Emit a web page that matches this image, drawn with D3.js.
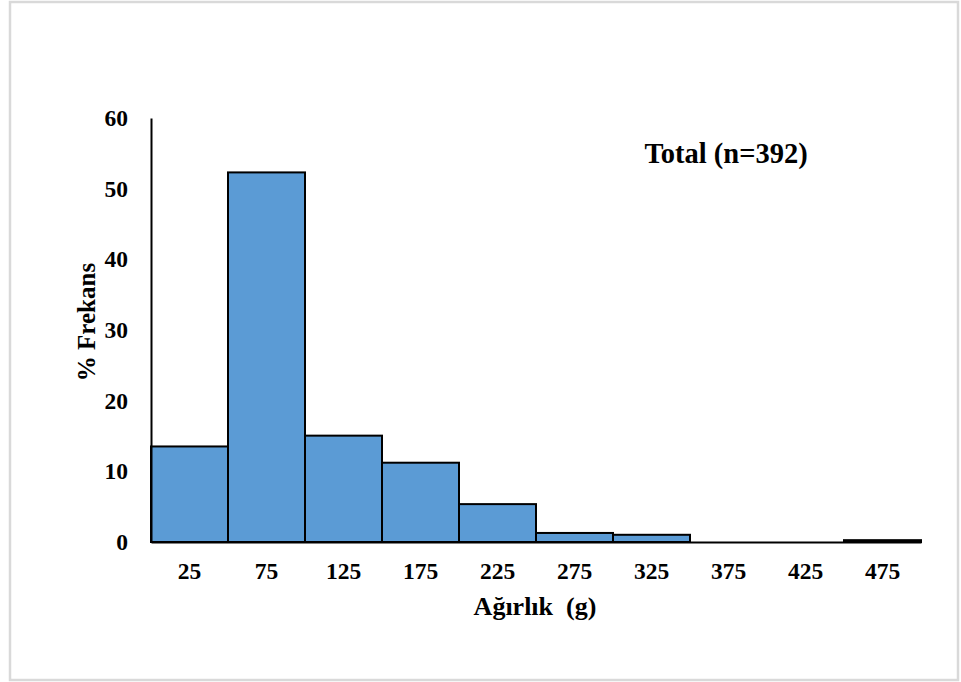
<!DOCTYPE html>
<html><head><meta charset="utf-8">
<script src="https://cdn.jsdelivr.net/npm/d3@7"></script>
<style>body{margin:0;background:#fff}svg{display:block}</style>
</head><body>
<svg id="c" width="961" height="682"></svg>
<script>
const categories = ["25","75","125","175","225","275","325","375","425","475"];
const values = [13.52, 52.30, 15.05, 11.22, 5.36, 1.28, 1.02, 0, 0, 0.26];
const yTicks = [0,10,20,30,40,50,60];
const title = "Total (n=392)";
const xTitle = "Ağırlık  (g)";
const yTitle = "% Frekans";

const svg = d3.select("#c");
const font = "'Liberation Serif','Times New Roman',serif";
svg.append("rect").attr("x",10).attr("y",2).attr("width",948).attr("height",678)
  .attr("fill","#fff").attr("stroke","#d9d9d9").attr("stroke-width",2.5);

const x = d3.scaleBand().domain(categories).range([151,921]).padding(0);
const y = d3.scaleLinear().domain([0,60]).range([542,118]);

svg.append("g").selectAll("rect").data(values).join("rect")
  .attr("x",(d,i)=>x(categories[i]))
  .attr("y",d=>y(d))
  .attr("width",x.bandwidth())
  .attr("height",d=>y(0)-y(d))
  .attr("fill","#5b9bd5").attr("stroke","#000").attr("stroke-width",2);

const yAxis = svg.append("g").attr("transform","translate(151,0)")
  .call(d3.axisLeft(y).tickValues(yTicks).tickSize(0).tickPadding(23));
const xAxis = svg.append("g").attr("transform","translate(0,542)")
  .call(d3.axisBottom(x).tickSize(0).tickPadding(20));
[yAxis,xAxis].forEach(a=>{
  a.select(".domain").attr("stroke","#000").attr("stroke-width",2);
  a.selectAll("text").attr("font-family",font).attr("font-weight","bold")
   .attr("font-size",23.5).attr("fill","#000");
});
xAxis.selectAll("text").attr("dy","0.71em");

svg.append("text").attr("x",535).attr("y",615).attr("text-anchor","middle")
  .attr("font-family",font).attr("font-weight","bold").attr("font-size",26)
  .style("white-space","pre").text(xTitle);
svg.append("text").attr("transform","translate(95,322) rotate(-90)").attr("text-anchor","middle")
  .attr("font-family",font).attr("font-weight","bold").attr("font-size",25)
  .text(yTitle);
svg.append("text").attr("x",726).attr("y",163).attr("text-anchor","middle")
  .attr("font-family",font).attr("font-weight","bold").attr("font-size",28.5)
  .style("white-space","pre").text(title);
</script>
</body></html>
